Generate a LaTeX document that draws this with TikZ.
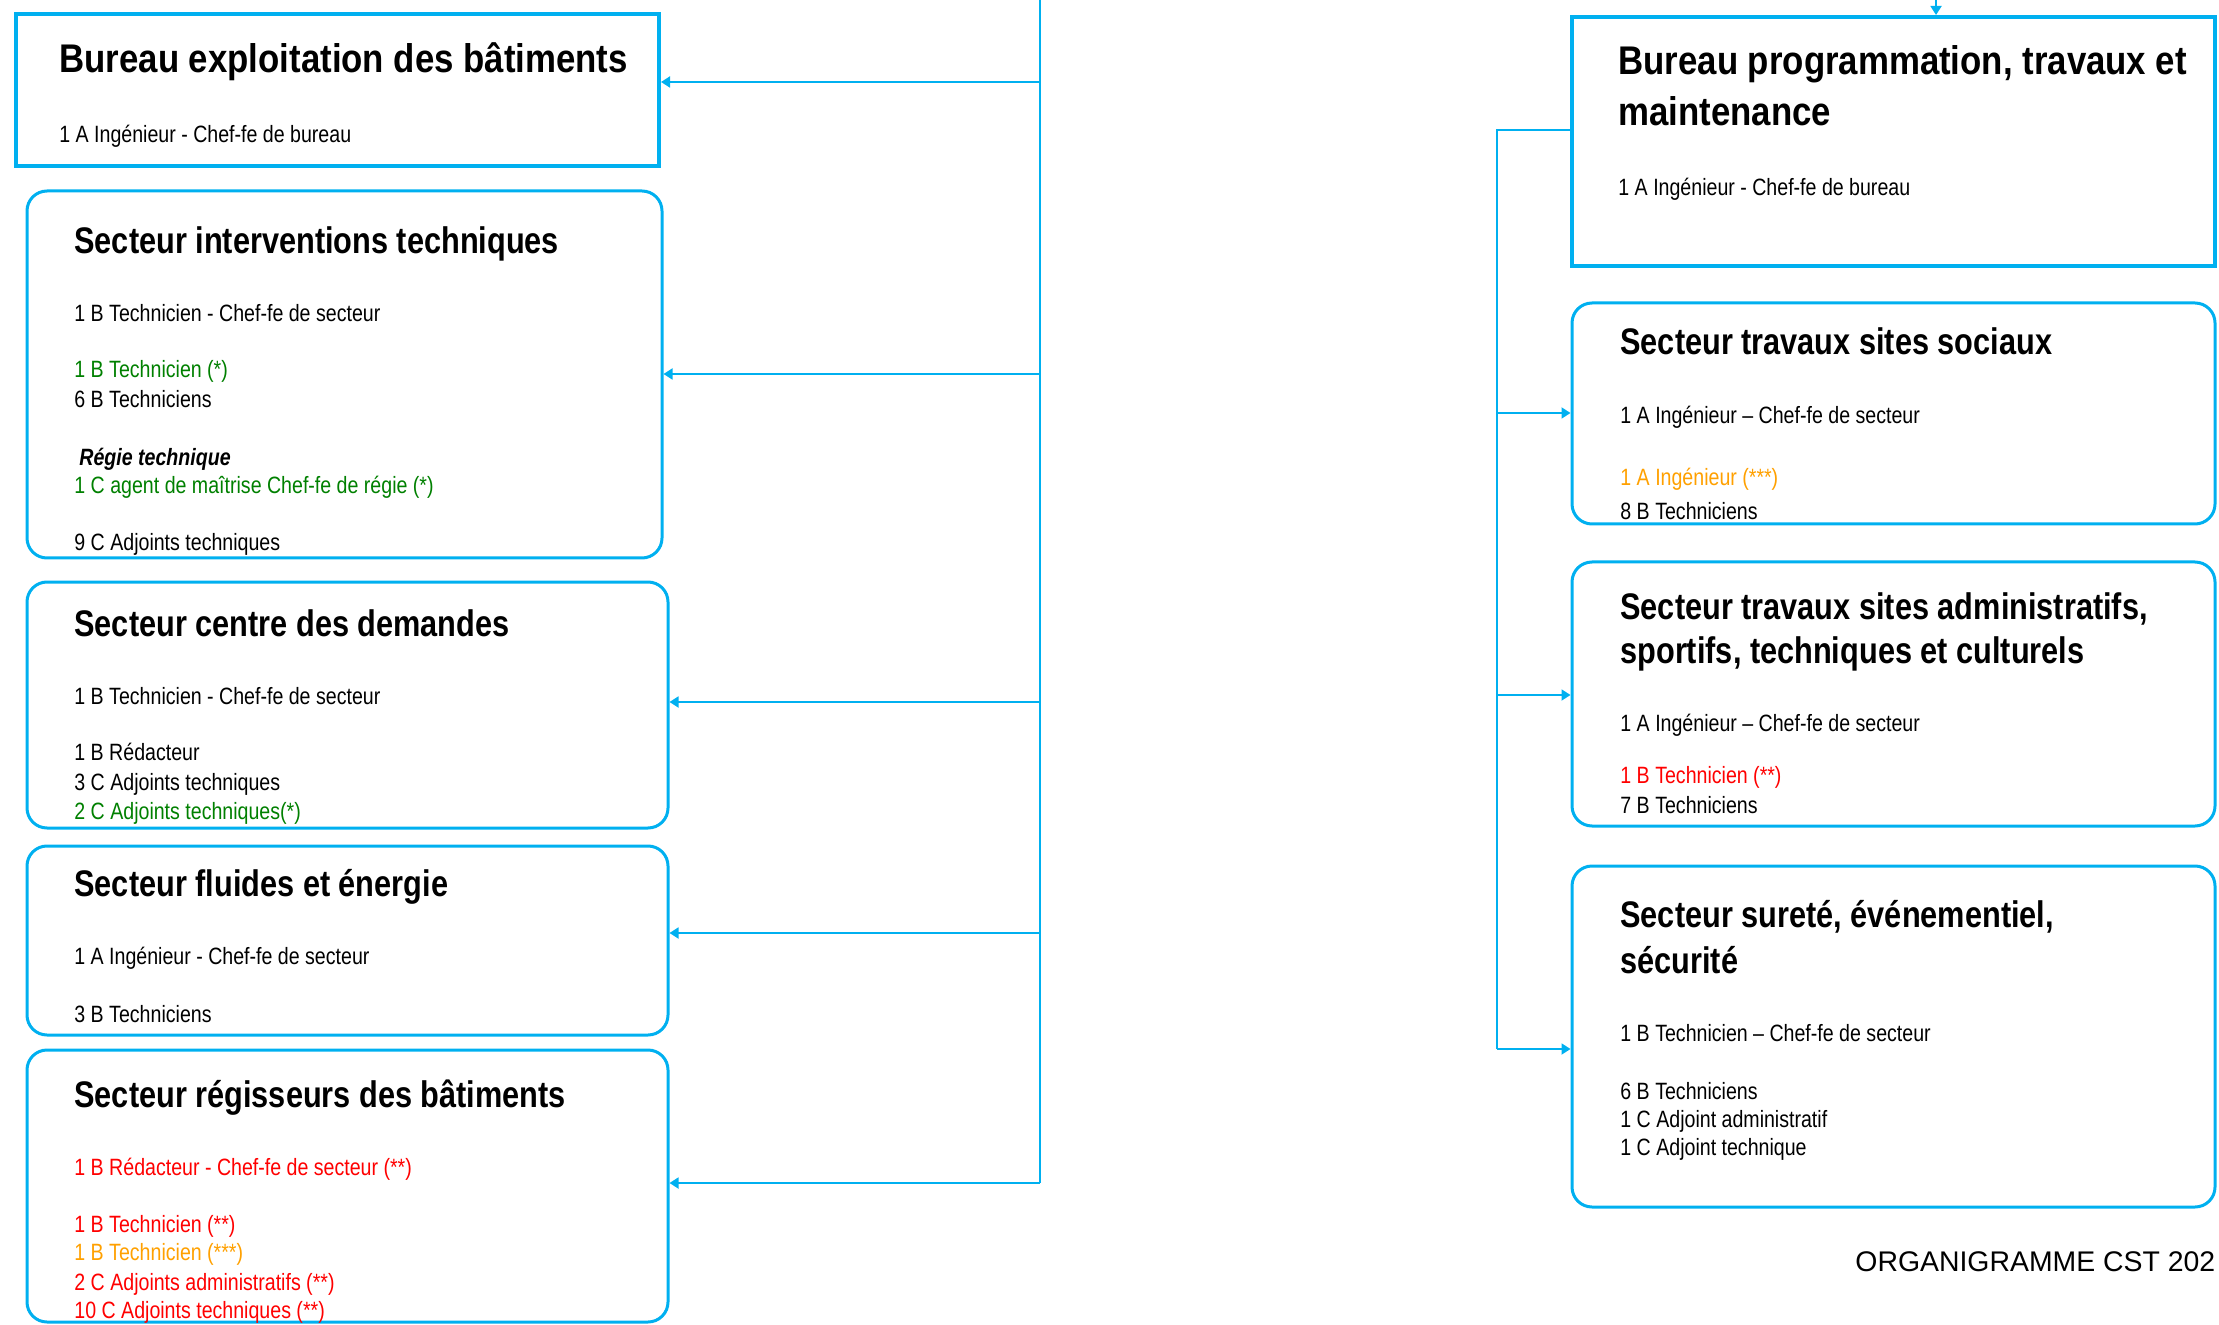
\documentclass[tikz,border=0pt]{standalone}
\usepackage{fontspec}
\setmainfont[FakeStretch=0.83]{Liberation Sans}
\newfontfamily\bureaufont[FakeStretch=0.87]{Liberation Sans}
\newfontfamily\plainfont{Liberation Sans}
\usetikzlibrary{arrows.meta,fit}
\definecolor{cblue}{HTML}{00B0F0}
\definecolor{cgreen}{HTML}{008000}
\definecolor{cred}{HTML}{FF0000}
\definecolor{corange}{HTML}{FFA000}
\tikzset{
  bureaubox/.style={draw=cblue, line width=2pt, inner sep=0pt},
  secbox/.style={draw=cblue, line width=1.5pt, inner sep=0pt, rounded corners=10pt},
  ttl/.style={anchor=base west, inner sep=0pt, font=\fontsize{18.5}{22}\selectfont\bfseries},
  bttl/.style={anchor=base west, inner sep=0pt, font=\bureaufont\fontsize{20}{24}\selectfont\bfseries},
  body/.style={anchor=base west, inner sep=0pt, font=\fontsize{11.8}{14}\selectfont},
  conn/.style={draw=cblue, line width=0.9pt},
  arr/.style={-{Triangle[length=4.5pt,width=5.5pt]}},
}
\begin{document}
\begin{tikzpicture}[x=0.5pt,y=-0.5pt]
\useasboundingbox (0,0) rectangle (2219,1325);

% ---------- left column ----------
\node[bureaubox, fit={(16,14)(659,166)}] (b1) {};
\node[bttl] (b1t) at (59,73) {Bureau exploitation des bâtiments};
\node[body] (b1a) at (59,143) {1 A Ingénieur - Chef-fe de bureau};

\node[secbox, fit={(27,191)(662,558)}] (b2) {};
\node[ttl] (b2t) at (74,254) {Secteur interventions techniques};
\node[body] (b2a) at (74,322) {1 B Technicien - Chef-fe de secteur};
\node[body, text=cgreen] (b2b) at (74,378) {1 B Technicien (*)};
\node[body] (b2c) at (74,408) {6 B Techniciens};
\node[body, font=\fontsize{11.8}{14}\selectfont\bfseries\itshape] (b2d) at (79,466) {Régie technique};
\node[body, text=cgreen] (b2e) at (74,494) {1 C agent de maîtrise Chef-fe de régie (*)};
\node[body] (b2f) at (74,551) {9 C Adjoints techniques};

\node[secbox, fit={(27,582)(668,828)}] (b3) {};
\node[ttl] (b3t) at (74,636) {Secteur centre des demandes};
\node[body] (b3a) at (74,704) {1 B Technicien - Chef-fe de secteur};
\node[body] (b3b) at (74,760) {1 B Rédacteur};
\node[body] (b3c) at (74,790) {3 C Adjoints techniques};
\node[body, text=cgreen] (b3d) at (74,819) {2 C Adjoints techniques(*)};

\node[secbox, fit={(27,846)(668,1035)}] (b4) {};
\node[ttl] (b4t) at (74,896) {Secteur fluides et énergie};
\node[body] (b4a) at (74,964) {1 A Ingénieur - Chef-fe de secteur};
\node[body] (b4b) at (74,1022) {3 B Techniciens};

\node[secbox, fit={(27,1050)(668,1322)}] (b5) {};
\node[ttl] (b5t) at (74,1107) {Secteur régisseurs des bâtiments};
\node[body, text=cred] (b5a) at (74,1175) {1 B Rédacteur - Chef-fe de secteur (**)};
\node[body, text=cred] (b5b) at (74,1232) {1 B Technicien (**)};
\node[body, text=corange] (b5c) at (74,1260) {1 B Technicien (***)};
\node[body, text=cred] (b5d) at (74,1290) {2 C Adjoints administratifs (**)};
\node[body, text=cred] (b5e) at (74,1318) {10 C Adjoints techniques (**)};

% ---------- right column ----------
\node[bureaubox, fit={(1572,17)(2215,266)}] (r1) {};
\node[bttl] (r1t) at (1618,75) {Bureau programmation, travaux et};
\node[bttl] (r1u) at (1618,126) {maintenance};
\node[body] (r1a) at (1618,196) {1 A Ingénieur - Chef-fe de bureau};

\node[secbox, fit={(1572,303)(2215,524)}] (r2) {};
\node[ttl] (r2t) at (1620,355) {Secteur travaux sites sociaux};
\node[body] (r2a) at (1620,424) {1 A Ingénieur – Chef-fe de secteur};
\node[body, text=corange] (r2b) at (1620,486) {1 A Ingénieur (***)};
\node[body] (r2c) at (1620,520) {8 B Techniciens};

\node[secbox, fit={(1572,562)(2215,826)}] (r3) {};
\node[ttl] (r3t) at (1620,619) {Secteur travaux sites administratifs,};
\node[ttl] (r3u) at (1620,663) {sportifs, techniques et culturels};
\node[body] (r3a) at (1620,731) {1 A Ingénieur – Chef-fe de secteur};
\node[body, text=cred] (r3b) at (1620,783) {1 B Technicien (**)};
\node[body] (r3c) at (1620,813) {7 B Techniciens};

\node[secbox, fit={(1572,866)(2215,1207)}] (r4) {};
\node[ttl] (r4t) at (1620,927) {Secteur sureté, événementiel,};
\node[ttl] (r4u) at (1620,973) {sécurité};
\node[body] (r4a) at (1620,1041) {1 B Technicien – Chef-fe de secteur};
\node[body] (r4b) at (1620,1099) {6 B Techniciens};
\node[body] (r4c) at (1620,1127) {1 C Adjoint administratif};
\node[body] (r4d) at (1620,1155) {1 C Adjoint technique};

\node[anchor=base west, inner sep=0pt, font=\plainfont\fontsize{14.2}{17}\selectfont] (foot) at (1855,1271) {ORGANIGRAMME CST 202};

% ---------- connectors ----------
\coordinate (ltop) at (1040,0);
\coordinate (l1) at (1040,82);
\coordinate (l2) at (1040,374);
\coordinate (l3) at (1040,702);
\coordinate (l4) at (1040,933);
\coordinate (l5) at (1040,1183);
\draw[conn] (ltop) -- (l5);
\draw[conn,arr] (l1) -- (l1 -| b1.east);
\draw[conn,arr] (l2) -- (l2 -| b2.east);
\draw[conn,arr] (l3) -- (l3 -| b3.east);
\draw[conn,arr] (l4) -- (l4 -| b4.east);
\draw[conn,arr] (l5) -- (l5 -| b5.east);

\coordinate (rtop) at (1936,0);
\draw[conn,arr] (rtop) -- (rtop |- r1.north);
\coordinate (r0) at (1497,130);
\coordinate (rr2) at (1497,413);
\coordinate (rr3) at (1497,695);
\coordinate (rr4) at (1497,1049);
\draw[conn] (r0 -| r1.west) -- (r0) -- (rr4);
\draw[conn,arr] (rr2) -- (rr2 -| r2.west);
\draw[conn,arr] (rr3) -- (rr3 -| r3.west);
\draw[conn,arr] (rr4) -- (rr4 -| r4.west);
\end{tikzpicture}
\end{document}
